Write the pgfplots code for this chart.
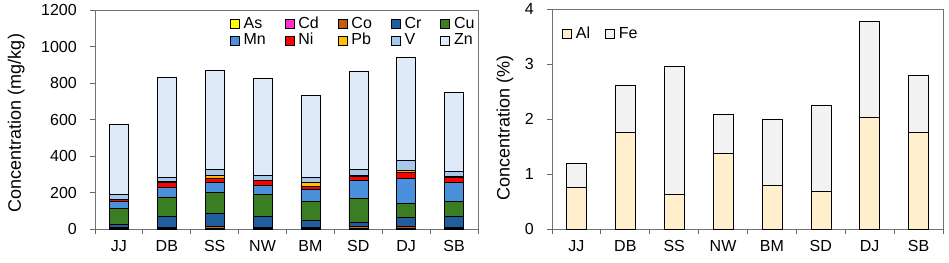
\documentclass[border=0pt]{standalone}
\usepackage{fontspec}
\setmainfont{Liberation Sans}
\usepackage{pgfplots}
\usepackage{pgfplotstable}
\pgfplotsset{compat=1.18}
\definecolor{cAs}{HTML}{FFFF00}
\definecolor{cCd}{HTML}{FF33CC}
\definecolor{cCo}{HTML}{C55A11}
\definecolor{cCr}{HTML}{1F5FA0}
\definecolor{cCu}{HTML}{3A7D22}
\definecolor{cMn}{HTML}{4A90DA}
\definecolor{cNi}{HTML}{FF0000}
\definecolor{cPb}{HTML}{FFC000}
\definecolor{cV}{HTML}{A5C8EC}
\definecolor{cZn}{HTML}{DEEAF7}
\definecolor{cAl}{HTML}{FFEFCC}
\definecolor{cFe}{HTML}{F2F2F2}
\pgfplotstableread{
x As Cd Co Cr Cu Mn Ni Pb V Zn
0 3 0.3 4 20 87 38 8 2 29 382
1 4 0.5 6 59 106 54 27 6 20 549
2 6 0.5 8 72 113 56 24 15 32 544
3 4 0.4 5 60 118 53 24 5 26 532
4 4 0.4 5 36 106 67 13 22 29 451
5 6 0.5 8 23 131 98 20 8 32 540
6 5 0.5 12 47 77 136 35 11 51 565
7 4 0.4 5 60 84 103 28 3 29 431
}\metals
\pgfplotstableread{
x Al Fe
0 0.76 0.44
1 1.76 0.86
2 0.63 2.33
3 1.38 0.71
4 0.80 1.20
5 0.69 1.56
6 2.03 1.75
7 1.76 1.04
}\major
\pgfplotsset{
  mybars/.style={
    anchor=south west, scale only axis,
    ybar stacked,
    xmin=-0.5, xmax=7.5,
    xtick={0,...,7},
    xticklabels={JJ,DB,SS,NW,BM,SD,DJ,SB},
    major x tick style={draw=none},
    extra x ticks={-0.5,0.5,...,7.5},
    extra x tick style={xticklabel={}, major x tick style={draw=black!60}},
    tick align=outside,
    xtick pos=bottom, ytick pos=left,
    major tick length=5pt,
    axis line style={draw=black!55, line width=0.8pt},
    tick style={draw=black!60, line width=0.8pt},
    tick label style={font=\fontsize{16}{18}\selectfont, inner sep=0pt},
    yticklabel style={xshift=-13pt},
    xticklabel style={yshift=-6pt},
    /pgf/number format/assume math mode=true,
    /pgf/number format/1000 sep={},
    label style={font=\fontsize{18}{20}\selectfont},
    legend image code/.code={\draw[#1, line width=0.6pt] (0pt,-4.5pt) rectangle (9pt,4.5pt);},
    legend style={draw=none, fill=none, inner sep=0pt, font=\fontsize{16}{18}\selectfont,
      nodes={inner sep=0pt, text height=11.5pt, text depth=3pt},
      row sep=2pt,
      /tikz/every odd column/.append style={column sep=4pt}},
    legend cell align=left,
    every axis plot/.append style={draw=black, line width=0.6pt},
  }
}
\begin{document}
\begin{tikzpicture}[x=1pt,y=1pt]
\path[use as bounding box] (0,0) rectangle (949,262);
\begin{axis}[mybars, at={(95pt,33pt)}, width=383pt, height=219pt,
  bar width=19pt,
  ymin=0, ymax=1200, ytick={0,200,...,1200},
  ylabel={Concentration (mg/kg)},
  ylabel style={at={(axis description cs:-0.206,0.484)}, anchor=center},
  legend columns=5,
  legend style={at={(0.352,0.97)}, anchor=north west,
    /tikz/every even column/.append style={column sep=19pt}},
]
\addplot[fill=cAs] table[x=x,y=As]{\metals};
\addplot[fill=cCd] table[x=x,y=Cd]{\metals};
\addplot[fill=cCo] table[x=x,y=Co]{\metals};
\addplot[fill=cCr] table[x=x,y=Cr]{\metals};
\addplot[fill=cCu] table[x=x,y=Cu]{\metals};
\addplot[fill=cMn] table[x=x,y=Mn]{\metals};
\addplot[fill=cNi] table[x=x,y=Ni]{\metals};
\addplot[fill=cPb] table[x=x,y=Pb]{\metals};
\addplot[fill=cV] table[x=x,y=V]{\metals};
\addplot[fill=cZn] table[x=x,y=Zn]{\metals};
\legend{As,Cd,Co,Cr,Cu,Mn,Ni,Pb,V,Zn}
\end{axis}
\begin{axis}[mybars, at={(552pt,33pt)}, width=391pt, height=220pt,
  bar width=20pt,
  ymin=0, ymax=4, ytick={0,1,2,3,4},
  ylabel={Concentration (\%)},
  ylabel style={at={(axis description cs:-0.12,0.46)}, anchor=center},
  legend columns=2,
  legend style={at={(0.026,0.92)}, anchor=north west,
    /tikz/every even column/.append style={column sep=15pt}},
]
\addplot[fill=cAl] table[x=x,y=Al]{\major};
\addplot[fill=cFe] table[x=x,y=Fe]{\major};
\legend{Al,Fe}
\end{axis}
\end{tikzpicture}
\end{document}
